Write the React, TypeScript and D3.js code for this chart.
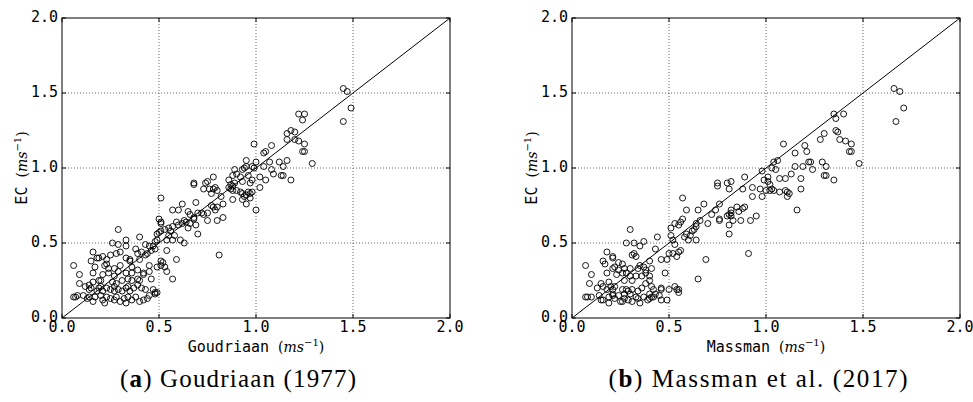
import React from "react";
import * as d3 from "d3";

const tickValues = [0, 0.5, 1.0, 1.5, 2.0];
const tickLabels = ["0.0", "0.5", "1.0", "1.5", "2.0"];
const gridValues = [0.5, 1.0, 1.5];

const goudriaanPoints: [number, number][] = [
  [0.06,0.14],[0.07,0.14],[0.08,0.15],[0.11,0.15],[0.13,0.13],[0.14,0.14],[0.16,0.11],[0.17,0.14],[0.20,0.15],[0.21,0.12],
  [0.22,0.10],[0.23,0.14],[0.25,0.13],[0.27,0.12],[0.28,0.14],[0.30,0.11],[0.32,0.13],[0.33,0.10],[0.34,0.14],[0.36,0.12],
  [0.38,0.14],[0.40,0.11],[0.42,0.12],[0.44,0.13],[0.45,0.15],[0.48,0.16],[0.49,0.17],
  [0.09,0.23],[0.12,0.21],[0.14,0.19],[0.15,0.20],[0.18,0.18],[0.19,0.20],[0.20,0.21],[0.21,0.18],[0.23,0.20],[0.25,0.19],
  [0.27,0.18],[0.27,0.21],[0.29,0.19],[0.31,0.18],[0.33,0.20],[0.34,0.21],[0.35,0.18],[0.37,0.20],[0.39,0.22],[0.41,0.20],
  [0.43,0.19],[0.47,0.19],[0.48,0.17],
  [0.14,0.22],[0.16,0.24],[0.19,0.25],[0.20,0.25],[0.26,0.24],[0.28,0.23],[0.31,0.25],[0.34,0.26],[0.36,0.25],[0.39,0.26],
  [0.40,0.25],[0.46,0.26],[0.42,0.29],
  [0.09,0.29],[0.16,0.30],[0.21,0.29],[0.24,0.30],[0.27,0.28],[0.29,0.31],[0.33,0.30],[0.36,0.30],[0.39,0.32],[0.42,0.30],
  [0.45,0.31],[0.57,0.26],
  [0.06,0.35],[0.15,0.38],[0.17,0.34],[0.22,0.35],[0.23,0.36],[0.24,0.33],[0.27,0.33],[0.30,0.35],[0.35,0.38],[0.36,0.34],
  [0.40,0.39],[0.45,0.35],[0.49,0.34],[0.51,0.35],[0.52,0.37],[0.53,0.34],[0.54,0.31],
  [0.16,0.44],[0.18,0.40],[0.19,0.40],[0.21,0.41],[0.23,0.39],[0.25,0.42],[0.28,0.43],[0.30,0.44],[0.33,0.40],[0.35,0.39],
  [0.39,0.43],[0.41,0.44],[0.43,0.42],[0.44,0.43],[0.46,0.45],[0.48,0.46],[0.51,0.38],[0.54,0.45],[0.59,0.39],[0.81,0.42],
  [0.26,0.50],[0.29,0.49],[0.33,0.48],[0.33,0.52],[0.38,0.46],[0.40,0.54],[0.43,0.49],[0.45,0.48],[0.47,0.48],[0.48,0.51],
  [0.49,0.52],[0.54,0.52],[0.55,0.55],[0.57,0.52],[0.61,0.52],[0.63,0.50],
  [0.29,0.59],[0.49,0.56],[0.50,0.57],[0.51,0.58],[0.53,0.59],[0.55,0.60],[0.56,0.58],[0.57,0.61],[0.58,0.55],[0.59,0.64],
  [0.60,0.62],[0.62,0.63],[0.63,0.65],[0.64,0.64],[0.65,0.60],[0.66,0.63],[0.68,0.66],[0.69,0.62],[0.70,0.56],
  [0.51,0.64],[0.51,0.63],[0.50,0.66],[0.57,0.72],[0.60,0.72],[0.62,0.76],[0.65,0.71],[0.66,0.69],[0.68,0.67],[0.69,0.77],
  [0.70,0.70],[0.72,0.70],[0.73,0.69],[0.75,0.70],[0.75,0.65],[0.77,0.75],[0.78,0.74],[0.79,0.72],[0.80,0.65],[0.83,0.67],
  [0.51,0.80],[0.80,0.74],[0.82,0.81],[0.83,0.76],[0.88,0.79],[0.93,0.79],[0.95,0.76],[0.97,0.80],[1.00,0.72],
  [0.68,0.90],[0.68,0.89],[0.73,0.86],[0.74,0.90],[0.75,0.91],[0.76,0.86],[0.77,0.83],[0.78,0.86],[0.79,0.87],[0.78,0.94],
  [0.80,0.85],[0.86,0.87],[0.87,0.86],[0.88,0.85],[0.88,0.88],[0.87,0.89],[0.89,0.90],[0.90,0.85],[0.92,0.84],[0.93,0.83],
  [0.94,0.81],[0.95,0.82],[0.96,0.84],[0.97,0.83],[0.98,0.84],[0.93,0.91],[0.97,0.90],[0.98,0.92],[1.02,0.94],
  [0.86,0.92],[0.88,0.95],[0.89,0.99],[0.90,0.96],[0.92,0.94],[0.93,0.99],[0.94,1.00],[0.95,1.01],[0.96,0.95],[0.98,1.01],
  [0.99,1.00],
  [1.45,1.53],[1.47,1.51],[1.49,1.40],[1.45,1.31],[1.22,1.36],[1.25,1.36],[1.24,1.32],
  [1.18,1.25],[1.16,1.23],[1.20,1.24],[1.16,1.19],[1.20,1.19],[1.22,1.18],[1.25,1.16],[1.24,1.11],[1.25,1.11],[1.29,1.03],
  [0.99,1.16],[1.08,1.15],[1.04,1.10],[1.05,1.11],[0.95,1.05],[1.00,1.04],[1.04,1.01],[1.07,1.04],[1.12,1.04],[1.16,1.05],
  [1.14,1.01],[1.08,0.99],[1.09,0.96],[1.13,0.95],[1.14,0.95],[1.18,0.92],[1.05,0.92],[1.02,0.87],
];

const massmanPoints: [number, number][] = [
  [1.66,1.53],[1.69,1.51],[1.71,1.40],[1.67,1.31],[1.35,1.36],[1.36,1.33],[1.40,1.36],[1.30,1.23],[1.28,1.19],[1.36,1.25],
  [1.37,1.24],[1.38,1.19],[1.41,1.18],[1.44,1.16],[1.43,1.11],[1.44,1.11],[1.48,1.03],[1.35,0.92],[1.31,1.01],[1.30,0.95],
  [1.31,0.95],[1.29,1.04],[1.24,0.99],[1.22,1.04],[1.21,1.11],[1.23,1.04],[1.20,1.15],[1.15,1.10],[1.09,1.16],[1.15,1.01],
  [1.19,1.01],[1.18,0.93],[1.18,0.86],[1.13,0.96],[1.10,0.93],[1.07,0.93],[1.06,1.05],[1.04,1.04],[1.03,1.00],[1.05,0.99],
  [0.98,0.98],[1.01,0.94],[0.99,0.92],[1.01,0.91],[1.02,0.89],[1.03,0.86],[1.00,0.85],[0.97,0.86],[0.98,0.81],[1.04,0.85],
  [1.02,0.85],[1.07,0.84],[1.10,0.85],[1.11,0.84],[1.11,0.81],[1.12,0.83],[1.16,0.72],[0.93,0.87],[0.88,0.86],[0.89,0.94],
  [0.82,0.91],[0.80,0.90],[0.75,0.90],[0.75,0.88],[0.81,0.86],[0.93,0.81],[0.89,0.74],[0.88,0.73],[0.86,0.71],[0.85,0.74],
  [0.82,0.72],[0.82,0.70],[0.81,0.69],[0.82,0.68],[0.83,0.65],[0.80,0.68],[0.81,0.62],[0.81,0.56],[0.87,0.65],[0.92,0.65],
  [0.95,0.68],[0.91,0.43],[0.76,0.76],[0.74,0.72],[0.76,0.66],[0.76,0.65],[0.72,0.69],[0.70,0.63],[0.68,0.76],[0.65,0.72],
  [0.66,0.65],[0.64,0.63],[0.64,0.61],[0.63,0.59],[0.62,0.58],[0.59,0.72],[0.57,0.66],[0.56,0.64],[0.55,0.62],[0.57,0.80],
  [0.59,0.56],[0.58,0.54],[0.60,0.52],[0.64,0.52],[0.61,0.55],[0.53,0.63],[0.51,0.60],[0.51,0.55],[0.52,0.52],[0.53,0.49],
  [0.56,0.45],[0.55,0.44],[0.54,0.41],[0.52,0.43],[0.50,0.43],[0.49,0.39],[0.46,0.39],[0.44,0.54],[0.43,0.46],[0.40,0.38],
  [0.37,0.51],[0.35,0.48],[0.32,0.50],[0.32,0.43],[0.31,0.42],[0.28,0.50],[0.30,0.59],[0.18,0.44],[0.16,0.38],[0.21,0.41],
  [0.21,0.40],[0.17,0.36],[0.18,0.30],[0.22,0.34],[0.24,0.37],[0.26,0.36],[0.27,0.33],[0.28,0.30],[0.30,0.33],[0.33,0.41],
  [0.34,0.33],[0.35,0.35],[0.37,0.34],[0.38,0.32],[0.41,0.33],[0.40,0.28],[0.38,0.30],[0.36,0.28],[0.33,0.28],[0.31,0.25],
  [0.30,0.28],[0.27,0.25],[0.26,0.30],[0.24,0.32],[0.23,0.29],[0.21,0.33],[0.07,0.35],[0.10,0.29],[0.09,0.23],[0.15,0.23],
  [0.13,0.20],[0.16,0.21],[0.18,0.19],[0.19,0.24],[0.20,0.21],[0.21,0.19],[0.22,0.21],[0.21,0.16],[0.26,0.19],[0.28,0.19],
  [0.29,0.18],[0.30,0.16],[0.31,0.19],[0.34,0.18],[0.36,0.20],[0.38,0.23],[0.40,0.25],[0.41,0.21],[0.42,0.19],[0.43,0.16],
  [0.46,0.19],[0.46,0.20],[0.48,0.30],[0.50,0.19],[0.53,0.21],[0.54,0.19],[0.55,0.17],[0.55,0.19],[0.65,0.26],[0.69,0.39],
  [0.07,0.14],[0.08,0.14],[0.10,0.14],[0.14,0.15],[0.15,0.12],[0.16,0.12],[0.19,0.14],[0.21,0.15],[0.22,0.13],[0.24,0.15],
  [0.26,0.11],[0.27,0.13],[0.29,0.12],[0.31,0.11],[0.33,0.14],[0.34,0.13],[0.37,0.14],[0.39,0.12],[0.40,0.13],[0.42,0.14],
  [0.46,0.12],[0.49,0.12],[0.19,0.10],[0.25,0.11],[0.35,0.10],[0.27,0.16],[0.40,0.16],[0.41,0.14],[0.45,0.15],
];

const panels = [
  { left: 62, name: "Goudriaan", points: goudriaanPoints, letter: "a", caption: " Goudriaan (1977)", capX: 238, capW: 236 },
  { left: 572, name: "Massman", points: massmanPoints, letter: "b", caption: " Massman et al. (2017)", capX: 758, capW: 299 },
];

const MONO = "'DejaVu Sans Mono', monospace";
const SERIF = "'DejaVu Serif', 'Liberation Serif', serif";
const CAPFONT = "'Liberation Serif', serif";

function Units() {
  return (
    <>
      <tspan fontFamily={SERIF} fontSize={14}>(</tspan>
      <tspan fontFamily={SERIF} fontStyle="italic" fontSize={14}>ms</tspan>
      <tspan fontFamily={SERIF} fontSize={10} dy={-6}>−1</tspan>
      <tspan fontFamily={SERIF} fontSize={14} dy={6}>)</tspan>
    </>
  );
}

function Panel({ p }: { p: typeof panels[number] }) {
  const width = 388;
  const top = 18;
  const bottom = 318;
  const x = d3.scaleLinear().domain([0, 2]).range([p.left, p.left + width]);
  const y = d3.scaleLinear().domain([0, 2]).range([bottom, top]);
  const right = p.left + width;
  const cx = (p.left + right) / 2;
  const cy = (top + bottom) / 2;
  return (
    <g>
      {gridValues.map((g) => (
        <g key={"g" + g}>
          <line x1={x(g)} x2={x(g)} y1={top} y2={bottom} stroke="#000" strokeWidth={0.6} strokeDasharray="1,2" />
          <line x1={p.left} x2={right} y1={y(g)} y2={y(g)} stroke="#000" strokeWidth={0.6} strokeDasharray="1,2" />
        </g>
      ))}
      <line x1={x(0)} y1={y(0)} x2={x(2)} y2={y(2)} stroke="#000" strokeWidth={1} />
      {p.points.map((d, i) => (
        <circle key={i} cx={x(d[0])} cy={y(d[1])} r={3} fill="none" stroke="#000" strokeWidth={0.9} />
      ))}
      <rect x={p.left} y={top} width={width} height={bottom - top} fill="none" stroke="#000" strokeWidth={1} />
      {tickValues.map((t) => (
        <g key={"t" + t}>
          <line x1={x(t)} x2={x(t)} y1={bottom} y2={bottom - 4} stroke="#000" />
          <line x1={x(t)} x2={x(t)} y1={top} y2={top + 4} stroke="#000" />
          <line x1={p.left} x2={p.left + 4} y1={y(t)} y2={y(t)} stroke="#000" />
          <line x1={right} x2={right - 4} y1={y(t)} y2={y(t)} stroke="#000" />
        </g>
      ))}
      {tickValues.map((t, i) => (
        <text key={"xl" + t} x={x(t)} y={bottom + 14} textAnchor="middle" fontFamily={MONO} fontSize={15}>
          {tickLabels[i]}
        </text>
      ))}
      {tickValues.map((t, i) => (
        <text key={"yl" + t} x={p.left - 4} y={y(t) + 4} textAnchor="end" fontFamily={MONO} fontSize={15}>
          {tickLabels[i]}
        </text>
      ))}
      <text x={cx} y={352} textAnchor="middle" fontFamily={MONO} fontSize={15}>
        {p.name + " "}
        <Units />
      </text>
      <text transform={`translate(${p.left - 35},${cy}) rotate(-90)`} textAnchor="middle" fontFamily={MONO} fontSize={15}>
        {"EC "}
        <Units />
      </text>
      <text x={p.capX} y={387} textAnchor="middle" fontFamily={CAPFONT} fontSize={25} textLength={p.capW} lengthAdjust="spacing">
        <tspan>(</tspan>
        <tspan fontWeight="bold">{p.letter}</tspan>
        <tspan>)</tspan>
        <tspan>{p.caption}</tspan>
      </text>
    </g>
  );
}

export default function App() {
  return (
    <svg width={973} height={402} style={{ position: "absolute", left: 0, top: 0, background: "#fff" }}>
      <rect x={0} y={0} width={973} height={402} fill="#fff" />
      {panels.map((p) => (
        <Panel key={p.name} p={p} />
      ))}
    </svg>
  );
}
